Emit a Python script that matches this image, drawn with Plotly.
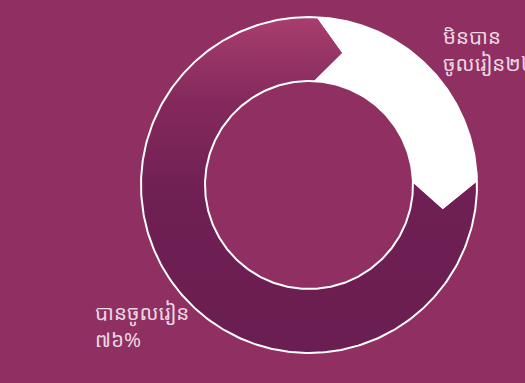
import numpy as np
import plotly.graph_objects as go

# Share of children (percent)
labels = ["មិនបាន<br>ចូលរៀន២៤%", "បានចូលរៀន<br>៧៦%"]
shares = [24, 76]
start_angle = 2.5  # degrees clockwise from 12 o'clock where the first segment begins

W, H = 525, 383
CX, CY = 309, 185          # ring centre in pixels
R_OUT, R_IN = 168, 104     # ring radii in pixels
R_MID = (R_OUT + R_IN) / 2
TIP = 11.5                 # chevron depth in degrees

BG = "#8f2f62"


def pt(r, deg):
    a = np.radians(deg)
    return r * np.sin(a), r * np.cos(a)


def arrow_segment(a0, a1):
    """Ring segment from a0 to a1 (clockwise) with a chevron tip at its end
    and a matching notch at its start."""
    xs, ys = [], []
    for t in np.linspace(a0, a1, 120):
        x, y = pt(R_OUT, t); xs.append(x); ys.append(y)
    x, y = pt(R_MID, a1 + TIP); xs.append(x); ys.append(y)
    for t in np.linspace(a1, a0, 120):
        x, y = pt(R_IN, t); xs.append(x); ys.append(y)
    x, y = pt(R_MID, a0 + TIP); xs.append(x); ys.append(y)
    xs.append(xs[0]); ys.append(ys[0])
    return xs, ys


fig = go.Figure()

bounds = [start_angle]
for s in shares:
    bounds.append(bounds[-1] + s / 100 * 360)

# 24% segment: white
xs, ys = arrow_segment(bounds[0], bounds[1])
fig.add_trace(go.Scatter(x=xs, y=ys, mode="lines", fill="toself",
                         fillcolor="#ffffff", line=dict(width=0),
                         hoverinfo="skip", showlegend=False))

# 76% segment: plum with vertical gradient
xs, ys = arrow_segment(bounds[1], bounds[2])
fig.add_trace(go.Scatter(
    x=xs, y=ys, mode="lines", fill="toself", line=dict(width=0),
    fillgradient=dict(type="vertical",
                      colorscale=[[0, "#6b1e51"], [0.45, "#6e1f53"],
                                  [0.75, "#84295d"], [1, "#a83e6e"]]),
    hoverinfo="skip", showlegend=False))

# thin white outlines of the ring
theta = np.linspace(0, 360, 361)
for r in (R_OUT, R_IN):
    cx, cy = pt(r, theta)
    fig.add_trace(go.Scatter(x=cx, y=cy, mode="lines",
                             line=dict(color="#ffffff", width=2),
                             hoverinfo="skip", showlegend=False))

font = dict(family="Noto Sans Khmer, Khmer OS, Noto Sans, sans-serif",
            size=20.5, color="#ecd6e1")
fig.add_annotation(x=441 / W, y=1 - 20 / H, xref="paper", yref="paper",
                   text=labels[0], showarrow=False, xanchor="left",
                   yanchor="top", align="left", font=font)
fig.add_annotation(x=93 / W, y=1 - 296 / H, xref="paper", yref="paper",
                   text=labels[1], showarrow=False, xanchor="left",
                   yanchor="top", align="left", font=font)

fig.update_layout(
    width=W, height=H, margin=dict(l=0, r=0, t=0, b=0),
    paper_bgcolor=BG, plot_bgcolor=BG,
    xaxis=dict(range=[-CX, W - CX], visible=False, fixedrange=True),
    yaxis=dict(range=[-(H - CY), CY], visible=False, fixedrange=True),
)

fig.write_html("out.html")
